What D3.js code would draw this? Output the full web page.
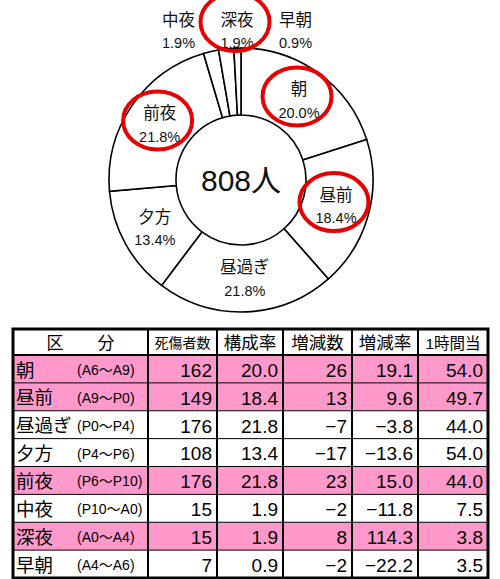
<!DOCTYPE html>
<meta charset="utf-8">
<style>
    body { margin: 0; background: #fff; }
    text { font-family: "Liberation Sans", Arial, "Noto Sans CJK JP", sans-serif; }
</style>
<svg width="500" height="579"></svg>
<script src="https://d3js.org/d3.v7.min.js"></script>
<script>

    // time-of-day bands
    var categories = ["朝", "昼前", "昼過ぎ", "夕方", "前夜", "中夜", "深夜", "早朝"];
    var ranges = ["(A6～A9)", "(A9～P0)", "(P0～P4)", "(P4～P6)", "(P6～P10)", "(P10～A0)", "(A0～A4)", "(A4～A6)"];
    var casualties = [162, 149, 176, 108, 176, 15, 15, 7];
    var shares = [20.0, 18.4, 21.8, 13.4, 21.8, 1.9, 1.9, 0.9];
    var changes = [26, 13, -7, -17, 23, -2, 8, -2];
    var changeRates = [19.1, 9.6, -3.8, -13.6, 15.0, -11.8, 114.3, -22.2];
    var perHour = [54.0, 49.7, 44.0, 54.0, 44.0, 7.5, 3.8, 3.5];
    var highlighted = [true, true, false, false, true, false, true, false];
    var total = "808人";
    var headers = ["区　　分", "死傷者数", "構成率", "増減数", "増減率", "1時間当"];

    var svg = d3.select("svg");

    // ---- donut ----
    var cx = 241, cy = 180, outerR = 132, innerR = 65;

    var pie = d3.pie().sort(null).value(function(d) { return d; });
    var arcs = pie(casualties);
    var arc = d3.arc().innerRadius(innerR).outerRadius(outerR);

    var g = svg.append("g").attr("transform", "translate(" + cx + "," + cy + ")");

    g.selectAll("path")
            .data(arcs)
            .enter().append("path")
            .attr("d", arc)
            .attr("fill", "#fff")
            .attr("stroke", "#000")
            .attr("stroke-width", 1.6);

    g.append("text")
            .attr("text-anchor", "middle")
            .attr("dy", "0.36em")
            .attr("font-size", 30)
            .attr("fill", "#111")
            .text(total);

    // label centres: inside for big slices, a row above the ring for tiny ones
    var small = arcs.filter(function(d, i) { return shares[i] < 5; });
    var labelPos = arcs.map(function(d, i) {
        if (shares[i] >= 5) return arc.centroid(d);
        var k = small.indexOf(d);
        return [-4 + (k - (small.length - 1) / 2) * 58.5, -149];
    });

    var labels = g.selectAll("g.lbl")
            .data(arcs)
            .enter().append("g")
            .attr("class", "lbl")
            .attr("transform", function(d, i) { return "translate(" + labelPos[i] + ")"; });

    labels.append("text")
            .attr("text-anchor", "middle")
            .attr("y", -11)
            .attr("dy", "0.36em")
            .attr("font-size", 16.5)
            .attr("fill", "#111")
            .text(function(d, i) { return categories[i]; });

    labels.append("text")
            .attr("text-anchor", "middle")
            .attr("y", 12)
            .attr("dy", "0.36em")
            .attr("font-size", 14.5)
            .attr("fill", "#111")
            .text(function(d, i) { return shares[i].toFixed(1) + "%"; });

    // red hand-drawn rings
    labels.filter(function(d, i) { return highlighted[i]; })
            .append("ellipse")
            .attr("cx", -2)
            .attr("cy", function(d) { return d.value < 40 ? -9 : -4; })
            .attr("rx", 34.5)
            .attr("ry", 29)
            .attr("fill", "none")
            .attr("stroke", "#e60000")
            .attr("stroke-width", 4);

    // ---- table ----
    var colX = [13, 148, 217, 283, 352, 418, 488];
    var tableTop = 329, headBottom = 355, tableBottom = 578;

    var y = d3.scaleBand()
            .domain(d3.range(categories.length))
            .range([headBottom, tableBottom]);

    var t = svg.append("g");

    t.selectAll("rect.row")
            .data(categories)
            .enter().append("rect")
            .attr("class", "row")
            .attr("x", colX[0])
            .attr("y", function(d, i) { return y(i); })
            .attr("width", colX[6] - colX[0])
            .attr("height", y.bandwidth())
            .attr("fill", function(d, i) { return highlighted[i] ? "#ff99cc" : "#fff"; });

    // horizontal lines
    t.selectAll("line.h")
            .data(d3.range(1, categories.length))
            .enter().append("line")
            .attr("x1", colX[0]).attr("x2", colX[6])
            .attr("y1", function(i) { return y(i); })
            .attr("y2", function(i) { return y(i); })
            .attr("stroke", "#000")
            .attr("stroke-width", 1);

    t.append("line")
            .attr("x1", colX[0]).attr("x2", colX[6])
            .attr("y1", headBottom).attr("y2", headBottom)
            .attr("stroke", "#000").attr("stroke-width", 2);

    // vertical lines
    t.selectAll("line.v")
            .data(colX.slice(1, 6))
            .enter().append("line")
            .attr("x1", function(d) { return d; })
            .attr("x2", function(d) { return d; })
            .attr("y1", tableTop).attr("y2", tableBottom)
            .attr("stroke", "#000")
            .attr("stroke-width", 2);

    t.append("rect")
            .attr("x", colX[0]).attr("y", tableTop)
            .attr("width", colX[6] - colX[0]).attr("height", tableBottom - tableTop)
            .attr("fill", "none")
            .attr("stroke", "#000")
            .attr("stroke-width", 3);

    // header
    var headSize = [17, 14, 17.5, 17.5, 17.5, 15.5];
    t.selectAll("text.head")
            .data(headers)
            .enter().append("text")
            .attr("x", function(d, i) { return (colX[i] + colX[i + 1]) / 2; })
            .attr("y", (tableTop + headBottom) / 2 + 1)
            .attr("dy", "0.36em")
            .attr("text-anchor", "middle")
            .attr("font-size", function(d, i) { return headSize[i]; })
            .attr("xml:space", "preserve")
            .text(function(d) { return d; });

    function fmt(v, digits) {
        var s = Math.abs(v).toFixed(digits);
        return v < 0 ? "−" + s : s;
    }

    var rows = t.selectAll("g.r")
            .data(categories)
            .enter().append("g")
            .attr("class", "r")
            .attr("transform", function(d, i) { return "translate(0," + (y(i) + y.bandwidth() / 2 + 1) + ")"; });

    var names = rows.append("text")
            .attr("x", colX[0] + 3)
            .attr("dy", "0.36em")
            .attr("font-size", 18.5)
            .text(function(d) { return d; });

    rows.append("text")
            .attr("x", function(d, i) {
                var w = names.nodes()[i].getComputedTextLength();
                return Math.max(77, colX[0] + 3 + w + 4);
            })
            .attr("dy", "0.36em")
            .attr("font-size", 14)
            .text(function(d, i) { return ranges[i]; });

    var cols = [
        function(i) { return String(casualties[i]); },
        function(i) { return shares[i].toFixed(1); },
        function(i) { return fmt(changes[i], 0); },
        function(i) { return fmt(changeRates[i], 1); },
        function(i) { return perHour[i].toFixed(1); }
    ];

    cols.forEach(function(f, c) {
        rows.append("text")
                .attr("x", colX[c + 2] - 5)
                .attr("dy", "0.36em")
                .attr("text-anchor", "end")
                .attr("font-size", 19)
                .text(function(d, i) { return f(i); });
    });

</script>
